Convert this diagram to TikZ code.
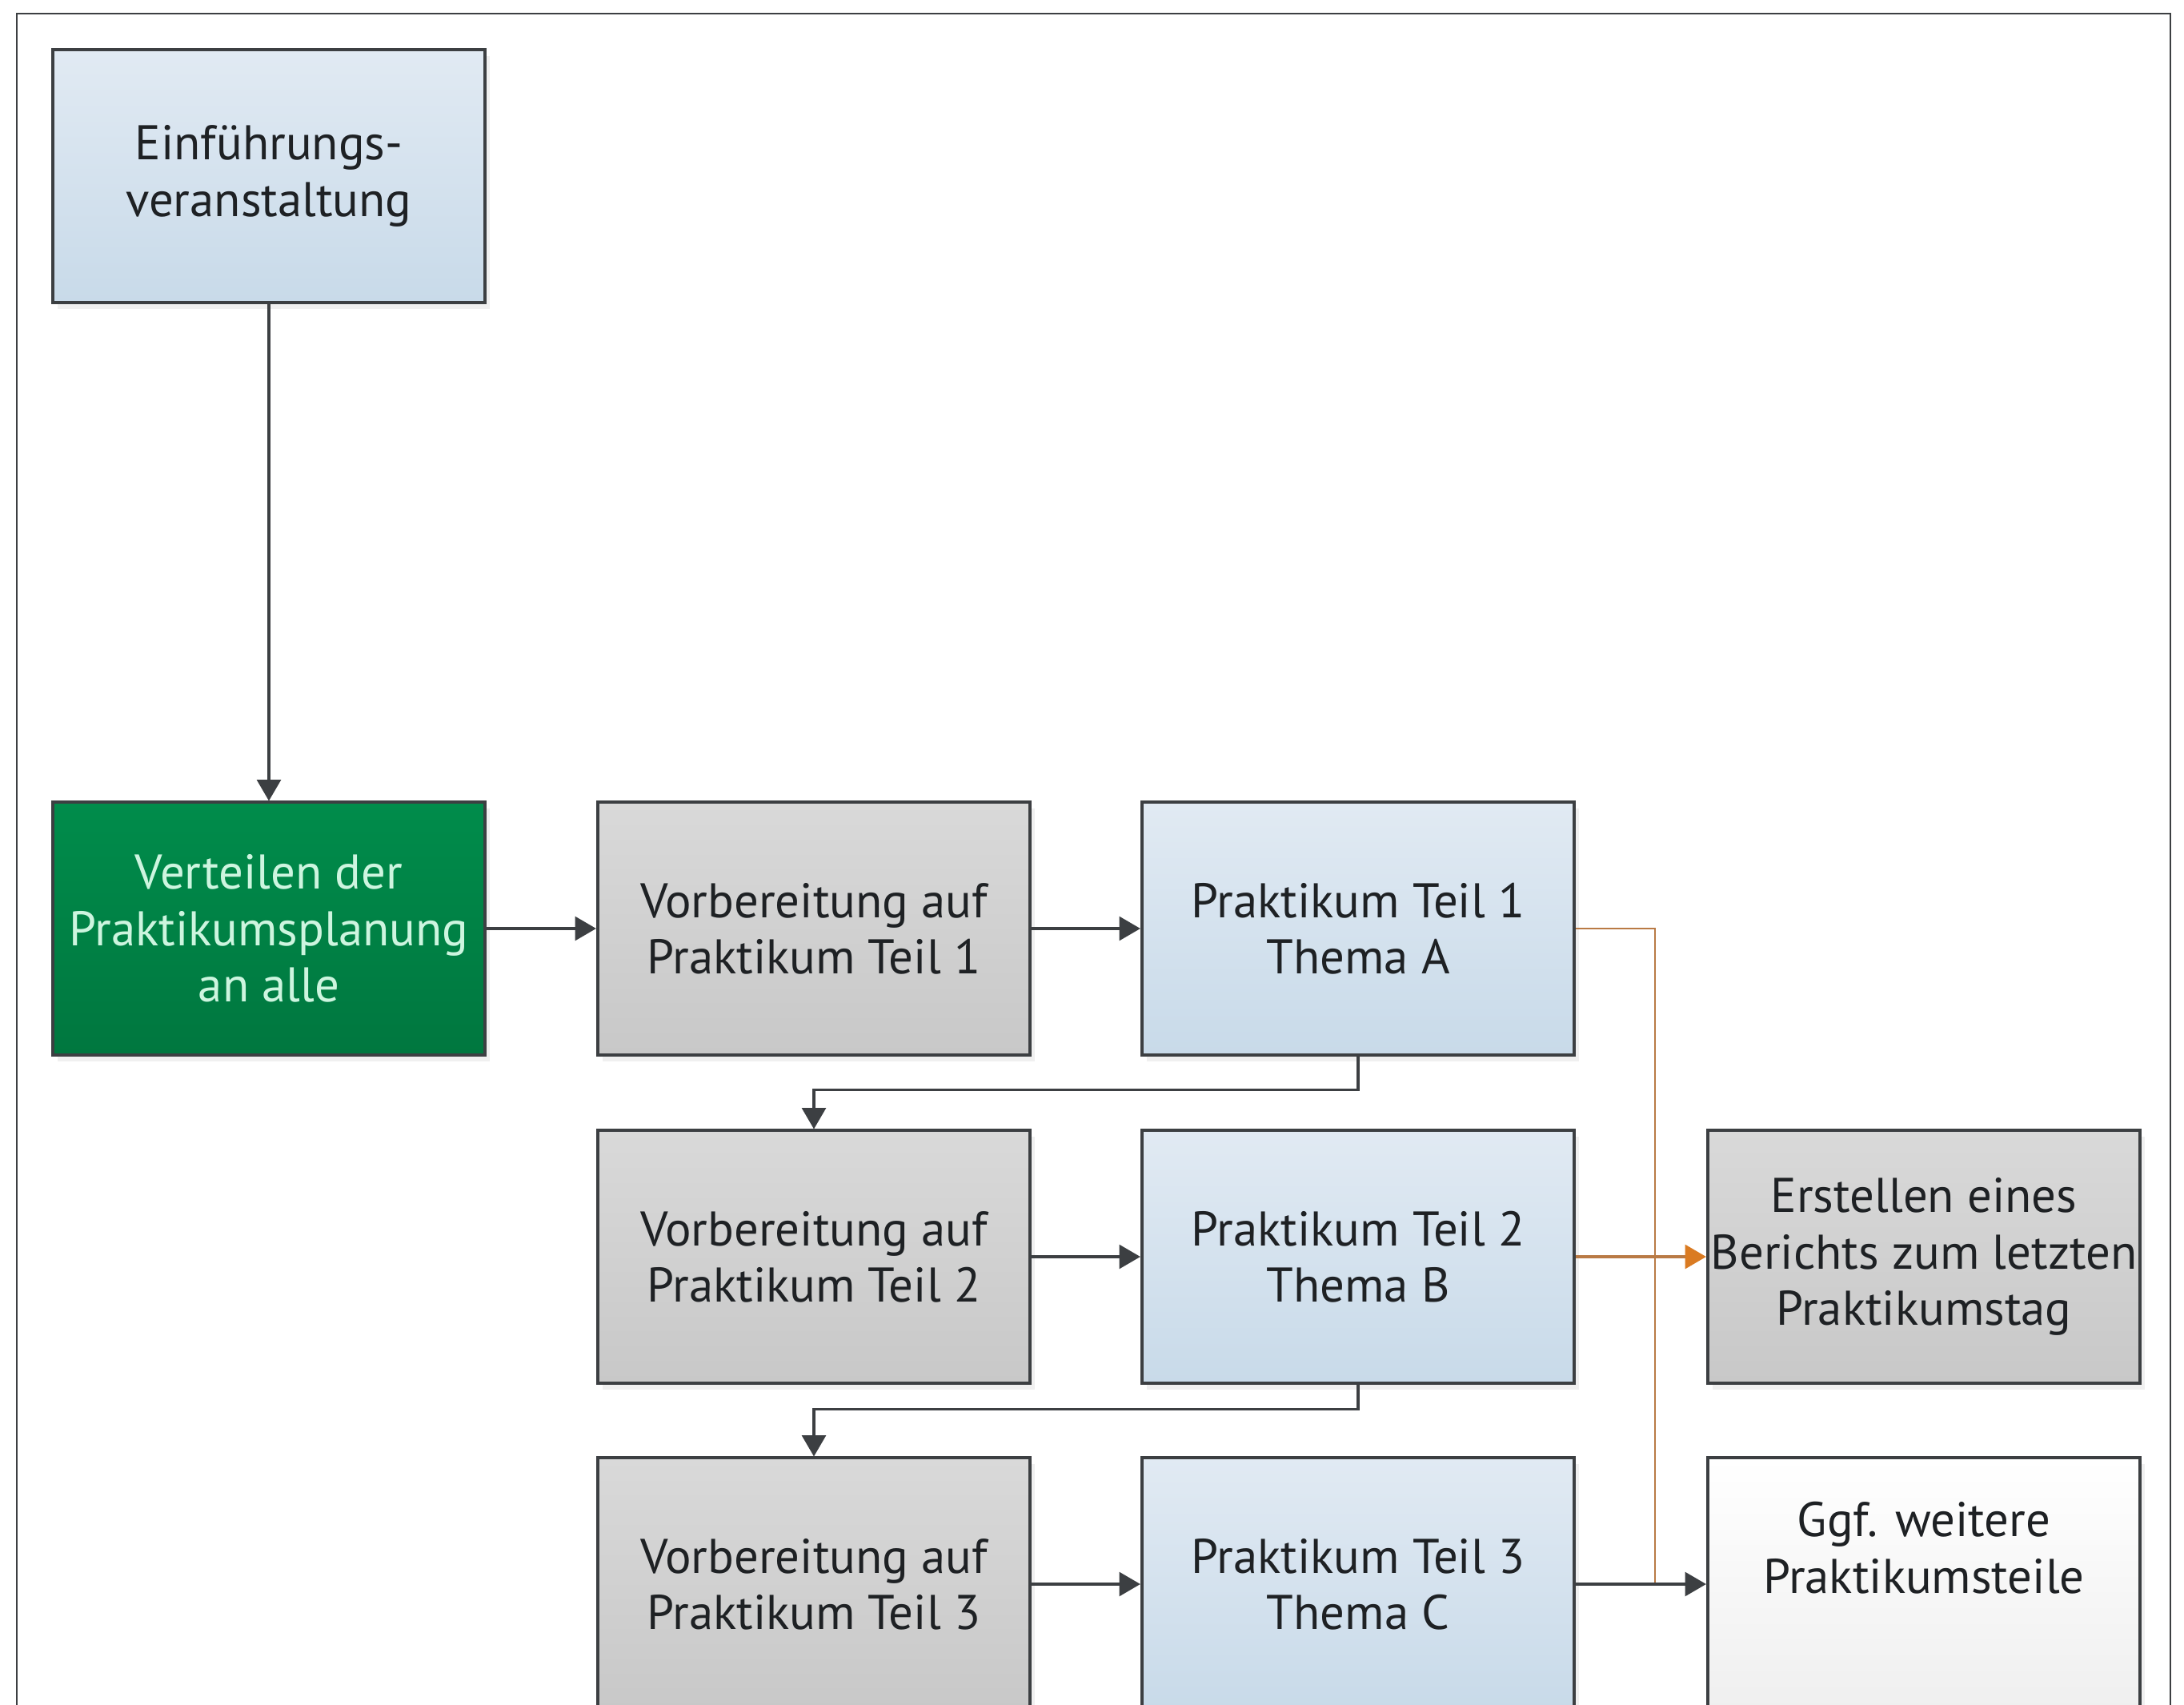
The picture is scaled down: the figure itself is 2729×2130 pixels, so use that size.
\documentclass[tikz,border=0pt]{standalone}
\usepackage{fontspec}
\setmainfont{PT Sans}
\usetikzlibrary{arrows.meta,shadows}

\definecolor{rahmen}{HTML}{3C3F42}
\definecolor{textgrau}{HTML}{1E2124}
\definecolor{blauoben}{HTML}{E1EAF3}
\definecolor{blauunten}{HTML}{C8DAE9}
\definecolor{grauoben}{HTML}{D9D9D9}
\definecolor{grauunten}{HTML}{C8C8C8}
\definecolor{gruenoben}{HTML}{008C4B}
\definecolor{gruenunten}{HTML}{00773F}
\definecolor{gruentext}{HTML}{CDF5DF}
\definecolor{weissunten}{HTML}{EFEFEF}
\definecolor{orangelinie}{HTML}{B97A45}
\definecolor{orangespitze}{HTML}{DA7B22}

\tikzset{
  kasten/.style={draw=rahmen, line width=1.1pt, minimum width=5.4cm,
    minimum height=3.15cm, inner xsep=0.5pt, align=center, text=textgrau,
    font=\fontsize{17.3}{20}\selectfont,
    drop shadow={shadow xshift=0.6mm, shadow yshift=-0.8mm, opacity=0.12}},
  blau/.style={kasten, top color=blauoben, bottom color=blauunten},
  grau/.style={kasten, top color=grauoben, bottom color=grauunten},
  gruen/.style={kasten, top color=gruenoben, bottom color=gruenunten, text=gruentext},
  weiss/.style={kasten, top color=white, bottom color=weissunten},
  pfeil/.style={draw=rahmen, line width=0.9pt, -{Triangle[length=7.5pt,width=8.5pt]}},
  orangelauf/.style={draw=orangelinie, line width=0.7pt},
  orangepfeil/.style={draw=orangelinie, line width=1pt,
    -{Triangle[length=7.5pt,width=8.5pt,color=orangespitze]}}
}

\begin{document}
\begin{tikzpicture}[x=0.01cm, y=-0.01cm]
	  \useasboundingbox (0,0) rectangle (2729,2130);
	  \clip (0,0) rectangle (2729,2130);
	  \draw[rahmen, line width=0.7pt] (21,2160) -- (21,17) -- (2712,17) -- (2712,2160);

	  % Kaesten
	  \node[blau]  (einf)      at (336,220)   {Einführungs-\\veranstaltung};
	  \node[gruen] (verteilen) at (336,1160)  {Verteilen der\\Praktikumsplanung\\an alle};
	  \node[grau]  (vorb1)     at (1017,1160) {Vorbereitung auf\\Praktikum Teil 1};
	  \node[blau]  (prakt1)    at (1697,1160) {Praktikum Teil 1\\Thema A};
	  \node[grau]  (vorb2)     at (1017,1570) {Vorbereitung auf\\Praktikum Teil 2};
	  \node[blau]  (prakt2)    at (1697,1570) {Praktikum Teil 2\\Thema B};
	  \node[grau]  (bericht)   at (2404,1570) {Erstellen eines\\Berichts zum letzten\\Praktikumstag};
	  \node[grau]  (vorb3)     at (1017,1979) {Vorbereitung auf\\Praktikum Teil 3};
	  \node[blau]  (prakt3)    at (1697,1979) {Praktikum Teil 3\\Thema C};
	  \node[weiss] (weitere)   at (2404,1979) {Ggf. weitere\\Praktikumsteile\\\strut};

	  % Verbindungen
	  \coordinate (knick) at (2068,1979);
	  \draw[pfeil] (einf) -- (verteilen);
	  \draw[pfeil] (verteilen) -- (vorb1);
	  \draw[pfeil] (vorb1) -- (prakt1);
	  \draw[pfeil] (prakt1.south) -- ++(0,42) -| (vorb2.north);
	  \draw[pfeil] (vorb2) -- (prakt2);
	  \draw[pfeil] (prakt2.south) -- ++(0,31) -| (vorb3.north);
	  \draw[pfeil] (vorb3) -- (prakt3);
	  \draw[orangelauf] (prakt1.east) -| (knick);
	  \draw[orangepfeil] (prakt2) -- (bericht);
	  \draw[pfeil] (prakt3) -- (weitere);
	\end{tikzpicture}
\end{document}
